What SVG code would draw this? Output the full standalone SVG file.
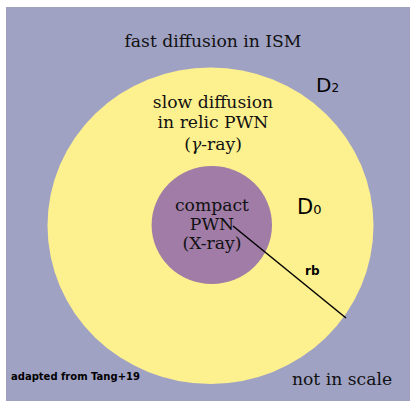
<svg xmlns="http://www.w3.org/2000/svg" width="410" height="401" viewBox="0 0 410 401">
<style>
.serif{font-family:"DejaVu Serif","Liberation Serif",serif;fill:#111;text-anchor:middle;font-size:17.2px}
.sans{font-family:"DejaVu Sans","Liberation Sans",sans-serif;fill:#000}
.bold{font-weight:bold}
</style>
<rect x="0" y="0" width="410" height="401" fill="#ffffff"/>
<g id="ism">
<rect x="6" y="7" width="404" height="394" fill="#a0a2c4"/>
<text class="serif" x="213" y="47">fast diffusion in ISM</text>
<text class="sans" x="316" y="92" font-size="20">D<tspan font-size="12">2</tspan></text>
</g>
<g id="relic-pwn">
<ellipse cx="210.5" cy="225.7" rx="163" ry="158.3" fill="#fdf08e"/>
<text class="serif" x="213" y="108">slow diffusion</text>
<text class="serif" x="213" y="128">in relic PWN</text>
<text class="serif" x="213" y="150">(<tspan font-style="italic">γ</tspan>-ray)</text>
<text class="sans" x="297" y="214" font-size="21">D<tspan font-size="13">0</tspan></text>
</g>
<g id="compact-pwn">
<ellipse cx="211.8" cy="225" rx="60.2" ry="59" fill="#a07ca6"/>
<text class="serif" x="212" y="211">compact</text>
<text class="serif" x="212" y="230">PWN</text>
<text class="serif" x="212" y="249">(X-ray)</text>
</g>
<g id="connectors">
<line x1="233" y1="226" x2="346" y2="318" stroke="#000" stroke-width="1.5"/>
<text class="sans bold" x="305" y="275" font-size="12">rb</text>
</g>
<g id="notes">
<text class="sans bold" x="11" y="380" font-size="10">adapted from Tang+19</text>
<text class="serif" x="342" y="385">not in scale</text>
</g>
</svg>
